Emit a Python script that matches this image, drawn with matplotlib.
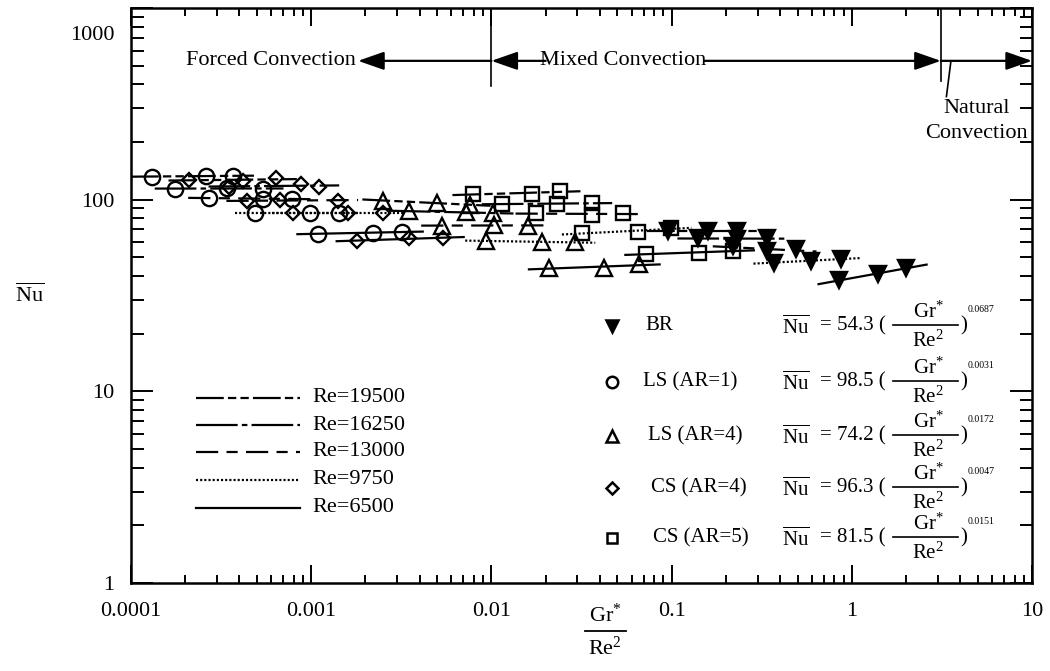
import numpy as np
import matplotlib
matplotlib.use("Agg")
import matplotlib.pyplot as plt
from matplotlib.ticker import LogLocator, NullFormatter

plt.rcParams["font.family"] = ["Liberation Serif", "DejaVu Serif"]
plt.rcParams["mathtext.fontset"] = "custom"
plt.rcParams["mathtext.rm"] = "Liberation Serif"
plt.rcParams["mathtext.it"] = "Liberation Serif:italic"
plt.rcParams["lines.scale_dashes"] = False

# Reynolds numbers, one fit line per Re and per heater shape
re_values = [19500, 16250, 13000, 9750, 6500]

# BR (filled down triangles)
br_x = [[0.095, 0.16, 0.23], [0.14, 0.23, 0.34], [0.22, 0.34, 0.49],
        [0.37, 0.59, 0.87], [0.85, 1.4, 2.0]]
br_y = [[69, 69, 69], [63, 62, 63], [57, 54, 55], [47, 48, 49], [38, 41, 44]]

# LS (AR=1) circles
ls1_x = [[1.3e-4, 2.6e-4, 3.7e-4], [1.76e-4, 3.4e-4, 5.4e-4],
         [2.7e-4, 5.4e-4, 7.8e-4], [4.9e-4, 9.8e-4, 1.43e-3],
         [1.09e-3, 2.2e-3, 3.2e-3]]
ls1_y = [[132, 133, 133], [114, 115, 114], [102, 101, 101], [85, 85, 85],
         [66.5, 67, 68]]

# LS (AR=4) triangles
ls4_x = [[2.5e-3, 5.0e-3, 7.6e-3], [3.5e-3, 7.2e-3, 1.02e-2],
         [5.3e-3, 1.04e-2, 1.6e-2], [9.3e-3, 1.9e-2, 2.9e-2],
         [2.1e-2, 4.2e-2, 6.6e-2]]
ls4_y = [[99, 96, 94], [87, 86, 85], [73, 74, 73], [61, 60, 60], [44, 44, 46]]

# CS (AR=4) diamonds
cs4_x = [[2.1e-4, 4.2e-4, 6.4e-4], [3.5e-4, 8.8e-4, 1.1e-3],
         [4.4e-4, 6.7e-4, 1.4e-3], [7.9e-4, 1.6e-3, 2.5e-3],
         [1.8e-3, 3.5e-3, 5.4e-3]]
cs4_y = [[127, 125, 129], [117, 120, 117], [98, 100, 99], [85, 85, 85],
         [61, 63, 63]]

# CS (AR=5) squares
cs5_x = [[7.9e-3, 1.67e-2, 2.4e-2], [1.15e-2, 2.3e-2, 3.6e-2],
         [1.77e-2, 3.6e-2, 5.4e-2], [3.2e-2, 6.5e-2, 9.9e-2],
         [7.2e-2, 0.142, 0.22]]
cs5_y = [[107, 107, 111], [95, 95, 96], [85, 83, 85], [67, 68, 71],
         [52, 53, 54]]

shape_labels = ["BR", "LS (AR=1)", "LS (AR=4)", "CS (AR=4)", "CS (AR=5)"]
coefs = ["54.3", "98.5", "74.2", "96.3", "81.5"]
exponents = ["0.0687", "0.0031", "0.0172", "0.0047", "0.0151"]

xticks = [1e-4, 1e-3, 1e-2, 1e-1, 1, 10]
xtick_labels = ["0.0001", "0.001", "0.01", "0.1", "1", "10"]
yticks = [1, 10, 100, 1000]
ytick_labels = ["1", "10", "100", "1000"]

line_styles = [(0, (20, 3, 6, 3, 6, 3)), (0, (30, 3, 4, 3)),
               (0, (16, 6, 8, 6)), (0, (1.5, 1.5)), "-"]

fig = plt.figure(figsize=(10.5, 6.71), dpi=100)
ax = fig.add_axes([131 / 1050, 88 / 671, 901 / 1050, 575 / 671])
ax.set_xscale("log")
ax.set_yscale("log")
ax.set_xlim(1e-4, 10)
ax.set_ylim(1, 1000)


def fx(px):
    return (px - 131) / 901


def fy(py):
    return (583 - py) / 575


shapes = [
    (br_x, br_y, "v", 11, "black"),
    (ls1_x, ls1_y, "o", 11, "none"),
    (ls4_x, ls4_y, "^", 11, "none"),
    (cs4_x, cs4_y, "D", 7.5, "none"),
    (cs5_x, cs5_y, "s", 10, "none"),
]

for xs_all, ys_all, mk, ms, face in shapes:
    for i in range(len(re_values)):
        x = np.array(xs_all[i], dtype=float)
        y = np.array(ys_all[i], dtype=float)
        p = np.polyfit(np.log10(x), np.log10(y), 1)
        xl = np.array([x.min() / 1.3, x.max() * 1.3])
        yl = 10 ** np.polyval(p, np.log10(xl))
        ax.plot(xl, yl, color="black", lw=1.6, ls=line_styles[i])
        ax.plot(x, y, ls="none", marker=mk, ms=ms, mfc=face, mec="black",
                mew=1.7)

# ticks (the 1000 label sits lower than its tick in the original)
ax.set_xticks(xticks)
ax.set_xticklabels(xtick_labels)
ax.set_yticks(yticks)
ax.set_yticklabels(ytick_labels[:-1] + [""])
ax.text(-16 / 901, fy(36), ytick_labels[-1], transform=ax.transAxes,
        fontsize=16, ha="right", va="center")
for axis in (ax.xaxis, ax.yaxis):
    axis.set_minor_locator(LogLocator(base=10, subs=np.arange(2, 10)))
    axis.set_minor_formatter(NullFormatter())
ax.tick_params(which="both", direction="in", top=True, right=True,
               width=1.4, labelsize=16)
ax.tick_params(axis="x", which="major", length=13, pad=14)
ax.tick_params(axis="x", which="minor", length=6)
ax.tick_params(axis="y", which="major", length=16, pad=12)
ax.tick_params(axis="y", which="minor", length=9)
for s in ax.spines.values():
    s.set_linewidth(1.8)

# axis labels
fig.text(30 / 1050, 1 - 295 / 671, r"$\overline{\mathrm{Nu}}$", fontsize=16,
         ha="center", va="center")
ax.text(fx(605), fy(615), r"Gr$^{*}$", transform=ax.transAxes, fontsize=16,
        ha="center", va="center", clip_on=False)
ax.plot([fx(585), fx(626)], [fy(631), fy(631)], transform=ax.transAxes,
        color="black", lw=1.3, clip_on=False)
ax.text(fx(605), fy(648), r"Re$^{2}$", transform=ax.transAxes, fontsize=16,
        ha="center", va="center", clip_on=False)

# regime annotations
arrow_kw = dict(arrowstyle="-|>,head_length=1.0,head_width=0.35",
                color="black", lw=1.6, mutation_scale=16, shrinkA=0,
                shrinkB=0)
ya = 530
ax.plot([0.01, 0.01], [393, 1000], color="black", lw=1.2)
ax.plot([3.12, 3.12], [417, 1000], color="black", lw=1.2)
ax.text(1.78e-3, ya, "Forced Convection", ha="right", va="center",
        fontsize=16)
ax.annotate("", xy=(1.82e-3, ya), xytext=(0.01, ya), arrowprops=arrow_kw)
ax.text(0.0535, ya, "Mixed Convection", ha="center", va="center",
        fontsize=16)
ax.annotate("", xy=(0.01, ya), xytext=(0.02, ya), arrowprops=arrow_kw)
ax.annotate("", xy=(3.12, ya), xytext=(0.152, ya), arrowprops=arrow_kw)
ax.annotate("", xy=(10, ya), xytext=(3.12, ya), arrowprops=arrow_kw,
            annotation_clip=False)
ax.plot([3.55, 3.35], [ya, 345], color="black", lw=1.2)
ax.text(4.9, 298, "Natural", ha="center", va="center", fontsize=16)
ax.text(4.9, 221, "Convection", ha="center", va="center", fontsize=16)

# Reynolds number line legend
leg_rows = [398, 425, 452, 480, 508]
for i, re in enumerate(re_values):
    ax.plot([fx(196), fx(300)], [fy(leg_rows[i])] * 2, transform=ax.transAxes,
            color="black", lw=1.6, ls=line_styles[i])
    ax.text(fx(312), fy(leg_rows[i]), "Re=%d" % re, transform=ax.transAxes,
            fontsize=16, ha="left", va="center")

# shape legend and correlations
rows = [326, 382, 436, 488, 538]
label_x = [645, 643, 648, 651, 653]
for i, (xs_all, ys_all, mk, ms, face) in enumerate(shapes):
    r = rows[i]
    ax.plot([fx(612)], [fy(r)], transform=ax.transAxes, marker=mk,
            ms=ms * 0.75, mfc=face, mec="black", mew=1.8, clip_on=False)
    ax.text(fx(label_x[i]), fy(r), shape_labels[i], transform=ax.transAxes,
            fontsize=15, ha="left", va="center")
    ax.text(fx(782), fy(r + 1), r"$\overline{\mathrm{Nu}}$",
            transform=ax.transAxes, fontsize=15, ha="left", va="center")
    ax.text(fx(820), fy(r), "= " + coefs[i] + " (", transform=ax.transAxes,
            fontsize=15, ha="left", va="center")
    ax.plot([fx(893), fx(958)], [fy(r - 1)] * 2, transform=ax.transAxes,
            color="black", lw=1.2)
    ax.text(fx(928), fy(r - 14), r"Gr$^{*}$", transform=ax.transAxes,
            fontsize=15, ha="center", va="center")
    ax.text(fx(928), fy(r + 15), r"Re$^{2}$", transform=ax.transAxes,
            fontsize=15, ha="center", va="center")
    ax.text(fx(960), fy(r), ")", transform=ax.transAxes, fontsize=15,
            ha="left", va="center")
    ax.text(fx(968), fy(r - 17), exponents[i], transform=ax.transAxes,
            fontsize=7, ha="left", va="center")

fig.savefig("out.png", dpi=100)
